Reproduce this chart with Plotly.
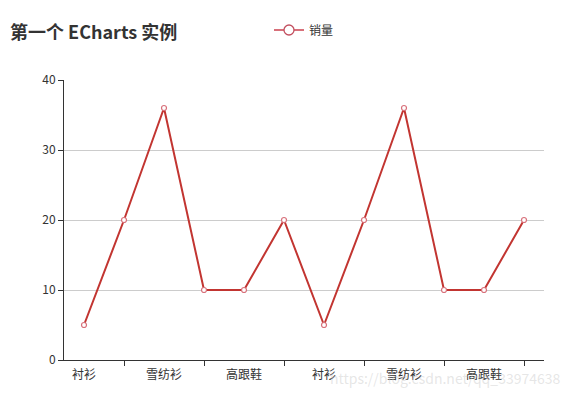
import plotly.graph_objects as go

categories = ["衬衫", "羊毛衫", "雪纺衫", "裤子", "高跟鞋", "袜子",
              "衬衫", "羊毛衫", "雪纺衫", "裤子", "高跟鞋", "袜子"]
sales = [5, 20, 36, 10, 10, 20, 5, 20, 36, 10, 10, 20]
y_ticks = [0, 10, 20, 30, 40]

FONT = "Noto Sans CJK SC, Microsoft YaHei, sans-serif"
RED = "#c23531"

# page body has an 8px margin, so the figure is sized to fit the window
W, H = 565, 389

idx = list(range(len(categories)))

fig = go.Figure()
fig.add_trace(go.Scatter(
    x=idx, y=sales, name="销量", mode="lines+markers",
    line=dict(color=RED, width=2),
    marker=dict(symbol="circle", size=5, color="white",
                line=dict(color="#d8707a", width=1.2)),
    hoverinfo="x+y", showlegend=False, legendgroup="s",
))
# legend entry (larger symbol, as in the ECharts legend)
fig.add_trace(go.Scatter(
    x=[None], y=[None], name="销量", mode="lines+markers",
    line=dict(color="#d8707a", width=2),
    marker=dict(symbol="circle", size=10, color="white",
                line=dict(color="#c25060", width=1.3)),
    showlegend=True, legendgroup="s",
))

fig.update_layout(
    width=W, height=H,
    margin=dict(l=56, r=29, t=72, b=37, autoexpand=False),
    paper_bgcolor="white", plot_bgcolor="white",
    font=dict(family=FONT, size=12, color="#333"),
    title=dict(text="<b>第一个 ECharts 实例</b>", x=2/W, xanchor="left",
               xref="container", y=1-25/H, yanchor="middle", yref="container",
               font=dict(family=FONT, size=18, color="#333")),
    showlegend=True,
    legend=dict(orientation="h", x=261/W, xanchor="left", xref="container",
                y=1-22/H, yanchor="middle", yref="container",
                font=dict(family=FONT, size=12, color="#333"),
                bgcolor="rgba(0,0,0,0)", itemwidth=30),
    xaxis=dict(
        range=[-0.5, len(categories) - 0.5],
        tickmode="array",
        tickvals=idx[::2],
        ticktext=categories[::2],
        ticks="", showgrid=False, zeroline=False,
        showline=True, linecolor="#333", linewidth=1,
        ticklabelstandoff=4,
        tickfont=dict(family=FONT, size=12, color="#333"),
        minor=dict(tickmode="array", tickvals=idx[1::2], ticks="outside",
                   ticklen=5, tickcolor="#333", tickwidth=1, showgrid=False),
        fixedrange=True,
    ),
    yaxis=dict(
        range=[0, 40], tickmode="array", tickvals=y_ticks,
        ticks="outside", ticklen=5, tickcolor="#333",
        showline=True, linecolor="#333", linewidth=1,
        showgrid=True, gridcolor="#ccc", gridwidth=1, zeroline=False,
        tickfont=dict(family=FONT, size=12, color="#333"),
        fixedrange=True,
    ),
)

fig.add_annotation(
    text="https://blog.csdn.net/qq_33974638", xref="paper", yref="paper",
    x=1.04, y=-0.065, xanchor="right", yanchor="middle", showarrow=False,
    font=dict(family=FONT, size=14, color="rgba(200,200,200,0.45)"),
)

fig.write_html("out.html")
